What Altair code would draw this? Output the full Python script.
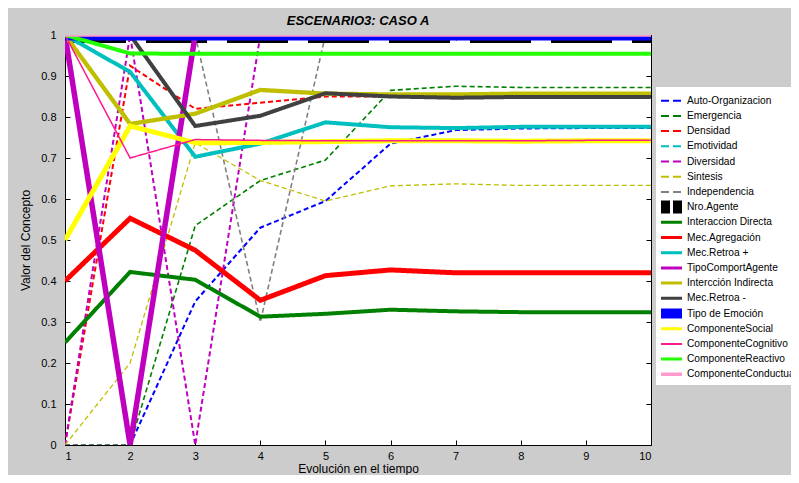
import altair as alt

# ---------------- data ----------------
T = [1, 2, 3, 4, 5, 6, 7, 8, 9, 10]
Y_TICKS = [0, 0.1, 0.2, 0.3, 0.4, 0.5, 0.6, 0.7, 0.8, 0.9, 1]

series_names = [
    "Auto-Organizacion", "Emergencia", "Densidad", "Emotividad", "Diversidad",
    "Sintesis", "Independencia", "Nro.Agente", "Interaccion Directa",
    "Mec.Agregación", "Mec.Retroa +", "TipoComportAgente", "Intercción Indirecta",
    "Mec.Retroa -", "Tipo de Emoción", "ComponenteSocial", "ComponenteCognitivo",
    "ComponenteReactivo", "ComponenteConductual",
]

auto_organizacion = [0, 0, 0.35, 0.53, 0.595, 0.735, 0.768, 0.772, 0.773, 0.773]
emergencia = [0, 0, 0.535, 0.645, 0.695, 0.865, 0.875, 0.872, 0.872, 0.872]
densidad = [0, 0.925, 0.82, 0.835, 0.85, 0.85, 0.852, 0.851, 0.851, 0.851]
emotividad = [1.0, 0.91, 0.703, 0.735, 0.787, 0.775, 0.773, 0.776, 0.776, 0.776]
diversidad = [0, 1, 0, 1, 1, 1, 1, 1, 1, 1]
sintesis = [0, 0.2, 0.737, 0.645, 0.595, 0.632, 0.637, 0.633, 0.633, 0.633]
independencia = [0, 0, 1, 0.3, 1, 1, 1, 1, 1, 1]
nro_agente = [1, 1, 1, 1, 1, 1, 1, 1, 1, 1]
interaccion_directa = [0.25, 0.422, 0.403, 0.313, 0.32, 0.33, 0.326, 0.324, 0.324, 0.324]
mec_agregacion = [0.40, 0.553, 0.475, 0.353, 0.413, 0.427, 0.42, 0.42, 0.42, 0.42]
mec_retroa_mas = [1.0, 0.91, 0.703, 0.735, 0.787, 0.775, 0.773, 0.776, 0.776, 0.776]
tipo_comport_agente = [1, 0, 1, 1, 1, 1, 1, 1, 1, 1]
interccion_indirecta = [1.0, 0.783, 0.808, 0.866, 0.857, 0.855, 0.855, 0.857, 0.857, 0.857]
mec_retroa_menos = [1, 1, 0.778, 0.803, 0.858, 0.85, 0.847, 0.849, 0.849, 0.849]
tipo_de_emocion = [1, 1, 1, 1, 1, 1, 1, 1, 1, 1]
componente_social = [0.5, 0.778, 0.737, 0.738, 0.74, 0.742, 0.742, 0.741, 0.742, 0.742]
componente_cognitivo = [1, 0.70, 0.745, 0.743, 0.742, 0.742, 0.742, 0.742, 0.743, 0.743]
componente_reactivo = [1, 0.955, 0.954, 0.954, 0.954, 0.954, 0.954, 0.954, 0.954, 0.954]
componente_conductual = [1, 1, 1, 1, 1, 1, 1, 1, 1, 1]

series_values = [
    auto_organizacion, emergencia, densidad, emotividad, diversidad, sintesis,
    independencia, nro_agente, interaccion_directa, mec_agregacion, mec_retroa_mas,
    tipo_comport_agente, interccion_indirecta, mec_retroa_menos, tipo_de_emocion,
    componente_social, componente_cognitivo, componente_reactivo, componente_conductual,
]

# ---------------- styles ----------------
colors = [
    "#0000ff", "#008000", "#ff0000", "#00bfbf", "#bf00bf", "#bfbf00", "#808080",
    "#000000", "#008000", "#ff0000", "#00bfbf", "#bf00bf", "#bfbf00", "#404040",
    "#0000ff", "#ffff00", "#ff1a8c", "#22ff00", "#ff9ccb",
]
DASH = [5, 3]
SOLID = [1, 0]
chart_dash = [DASH] * 7 + [[61, 20]] + [SOLID] * 11
chart_width = [2, 1.6, 2, 1.6, 2, 1.3, 1.6, 16, 4, 5, 4, 5.5, 4.3, 4, 11, 5, 1.5, 4, 3.5]
legend_dash = [[8, 4]] * 7 + [[9, 3]] + [SOLID] * 11
legend_width = [2, 2, 2, 2, 2, 2, 2, 13, 3, 3, 3, 3, 3, 3, 10, 3, 2, 3, 3.5]

W, H = 586, 410
FONT = "Liberation Sans"

line_records = []
for i, (name, vals) in enumerate(zip(series_names, series_values)):
    for t, v in zip(T, vals):
        line_records.append({"serie": name, "t": t, "v": v, "color": colors[i],
                             "dash": chart_dash[i], "w": chart_width[i]})

legend_records = [
    {"idx": i, "name": n, "color": colors[i], "dash": legend_dash[i], "w": legend_width[i]}
    for i, n in enumerate(series_names)
]

xs = alt.Scale(domain=[1, 10], nice=False, zero=False)
ys = alt.Scale(domain=[0, 1], nice=False)

lines = alt.Chart(alt.Data(values=line_records)).mark_line(clip=True, strokeCap="butt").encode(
    x=alt.X("t:Q", scale=xs, axis=alt.Axis(values=T, format="d", ticks=False, domain=False,
                                           grid=False, labelPadding=5,
                                           title="Evolución en el tiempo", titlePadding=2)),
    y=alt.Y("v:Q", scale=ys, axis=alt.Axis(values=Y_TICKS, format="~g", ticks=False, domain=False,
                                           grid=False, labelPadding=9,
                                           title="Valor del Concepto", titlePadding=8)),
    detail="serie:N",
    color=alt.Color("color:N", scale=None),
    strokeDash=alt.StrokeDash("dash", type="nominal", scale=None),
    strokeWidth=alt.StrokeWidth("w:Q", scale=None),
    order=alt.Order("t:Q"),
)

ticks_a = alt.Chart(alt.Data(values=line_records)).mark_point(opacity=0).encode(
    x=alt.X("t:Q", scale=xs, axis=alt.Axis(orient="top", offset=-H, values=T, labels=False,
                                           domain=False, grid=False, tickSize=5, title=None)),
    y=alt.Y("v:Q", scale=ys, axis=alt.Axis(orient="right", offset=-W, values=Y_TICKS, labels=False,
                                           domain=False, grid=False, tickSize=5, title=None)),
)
ticks_b = alt.Chart(alt.Data(values=line_records)).mark_point(opacity=0).encode(
    x=alt.X("t:Q", scale=xs, axis=alt.Axis(orient="bottom", offset=-H, values=T, labels=False,
                                           domain=False, grid=False, tickSize=5, title=None)),
    y=alt.Y("v:Q", scale=ys, axis=alt.Axis(orient="left", offset=-W, values=Y_TICKS, labels=False,
                                           domain=False, grid=False, tickSize=5, title=None)),
)

legend_box = alt.Chart(alt.Data(values=[{"a": 0}])).mark_rect(fill="white").encode(
    x=alt.value(591), x2=alt.value(740), y=alt.value(52), y2=alt.value(350)
)
ly = alt.Y("idx:Q", scale=alt.Scale(domain=[0, 18], range=[65.7, 339.3]), axis=None)
legend_sym = alt.Chart(alt.Data(values=legend_records)).mark_rule(strokeCap="butt").encode(
    x=alt.value(596), x2=alt.value(617), y=ly,
    color=alt.Color("color:N", scale=None),
    strokeDash=alt.StrokeDash("dash", type="nominal", scale=None),
    strokeWidth=alt.StrokeWidth("w:Q", scale=None),
)
legend_txt = alt.Chart(alt.Data(values=legend_records)).mark_text(
    align="left", baseline="middle", font=FONT, fontSize=10.2, color="black"
).encode(x=alt.value(622), y=ly, text="name:N")

chart = (
    alt.layer(lines, ticks_a, ticks_b, legend_box, legend_sym, legend_txt)
    .resolve_scale(y="independent")
    .resolve_axis(x="independent", y="independent")
    .properties(
        width=W, height=H,
        title=alt.TitleParams("ESCENARIO3: CASO A", font=FONT, fontSize=13, fontWeight="bold",
                              fontStyle="italic", color="black", anchor="middle", offset=1),
        padding={"left": 57, "top": 27, "right": 140, "bottom": 30},
        autosize=alt.AutoSizeParams(type="none"),
        background="#cccccc",
    )
    .configure_axis(labelFont=FONT, titleFont=FONT, labelFontSize=11, titleFontSize=12,
                    labelColor="black", titleColor="black", tickColor="black",
                    titleFontWeight="normal")
    .configure_view(fill="white", stroke="black", strokeWidth=1)
)

chart.save("out.html", embed_options={"renderer": "svg", "actions": False})
